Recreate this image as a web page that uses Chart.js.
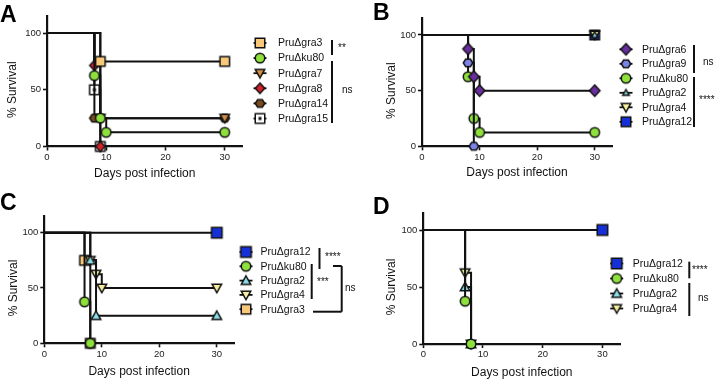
<!DOCTYPE html>
<html>
<head>
<meta charset="utf-8">
<script src="https://cdn.jsdelivr.net/npm/chart.js@4.4.1/dist/chart.umd.min.js"></script>
<style>
  html, body { margin: 0; padding: 0; background: #fff; }
  #fig { position: relative; width: 720px; height: 380px; overflow: hidden; background: #fff; }
  #fig canvas { position: absolute; }
</style>
</head>
<body>
<div id="fig">
  <canvas id="panelA" width="360" height="190" style="left:0;top:0"></canvas>
  <canvas id="panelB" width="360" height="190" style="left:360px;top:0"></canvas>
  <canvas id="panelC" width="360" height="190" style="left:0;top:190px"></canvas>
  <canvas id="panelD" width="360" height="190" style="left:360px;top:190px"></canvas>
</div>
<script>
// shared axis ticks
var xTicks = [0, 10, 20, 30];
var yTicks = [0, 50, 100];

// Panel A - survival (%) by day
var aNames = ['PruΔgra3', 'PruΔku80', 'PruΔgra7', 'PruΔgra8', 'PruΔgra14', 'PruΔgra15'];
var aGra3Days = [0, 9, 30],        aGra3Surv = [100, 75, 75];
var aKu80Days = [0, 8, 9, 10, 30], aKu80Surv = [100, 62.5, 25, 12.5, 12.5];
var aGra7Days = [0, 9, 30],        aGra7Surv = [100, 25, 25];
var aGra8Days = [0, 8, 9],         aGra8Surv = [100, 71.4, 0];
var aGra14Days = [0, 8, 30],       aGra14Surv = [100, 25, 25];
var aGra15Days = [0, 8, 9],        aGra15Surv = [100, 50, 0];

// Panel B
var bNames = ['PruΔgra6', 'PruΔgra9', 'PruΔku80', 'PruΔgra2', 'PruΔgra4', 'PruΔgra12'];
var bGra6Days = [0, 8, 9, 10, 30], bGra6Surv = [100, 87.5, 62.5, 50, 50];
var bGra9Days = [0, 8, 9],         bGra9Surv = [100, 75, 0];
var bKu80Days = [0, 8, 9, 10, 30], bKu80Surv = [100, 62.5, 25, 12.5, 12.5];
var bGra2Days = [0, 30],           bGra2Surv = [100, 100];
var bGra4Days = [0, 30],           bGra4Surv = [100, 100];
var bGra12Days = [0, 30],          bGra12Surv = [100, 100];

// Panel C
var cNames = ['PruΔgra12', 'PruΔku80', 'PruΔgra2', 'PruΔgra4', 'PruΔgra3'];
var cGra12Days = [0, 30],          cGra12Surv = [100, 100];
var cKu80Days = [0, 7, 8],         cKu80Surv = [100, 37.5, 0];
var cGra2Days = [0, 8, 9, 30],     cGra2Surv = [100, 75, 25, 25];
var cGra4Days = [0, 8, 9, 10, 30], cGra4Surv = [100, 75, 62.5, 50, 50];
var cGra3Days = [0, 7, 8],         cGra3Surv = [100, 75, 0];

// Panel D
var dNames = ['PruΔgra12', 'PruΔku80', 'PruΔgra2', 'PruΔgra4'];
var dGra12Days = [0, 30],          dGra12Surv = [100, 100];
var dKu80Days = [0, 7, 8],         dKu80Surv = [100, 37.5, 0];
var dGra2Days = [0, 7, 8],         dGra2Surv = [100, 50, 0];
var dGra4Days = [0, 7, 8],         dGra4Surv = [100, 62.5, 0];

var FONT = '"Liberation Sans", Arial, Helvetica, sans-serif';

// marker look for each strain
var markerStyle = {
  'PruΔgra3':  { shape: 'square',    fill: '#f7c77a' },
  'PruΔku80':  { shape: 'circle',    fill: '#8ee03c' },
  'PruΔgra7':  { shape: 'triDown',   fill: '#d38d45' },
  'PruΔgra8':  { shape: 'diamond',   fill: '#d3202a' },
  'PruΔgra14': { shape: 'hexagon',   fill: '#7a4a1d' },
  'PruΔgra15': { shape: 'squareDot', fill: '#ffffff' },
  'PruΔgra6':  { shape: 'diamond',   fill: '#6a2d9e' },
  'PruΔgra9':  { shape: 'hexagon',   fill: '#7d83e6' },
  'PruΔgra2':  { shape: 'triUp',     fill: '#88dde6' },
  'PruΔgra4':  { shape: 'triDown',   fill: '#f6f09e' },
  'PruΔgra12': { shape: 'square',    fill: '#1530d6' }
};

function makeMarker(shape, fill, size) {
  var pad = 2;
  var c = document.createElement('canvas');
  c.width = c.height = Math.ceil(size + pad * 2);
  var g = c.getContext('2d');
  var m = c.width / 2, r = size / 2;
  g.lineWidth = 1.5;
  g.strokeStyle = '#111';
  g.fillStyle = fill;
  g.beginPath();
  if (shape === 'circle') {
    g.arc(m, m, r, 0, Math.PI * 2);
  } else if (shape === 'square' || shape === 'squareDot') {
    g.rect(m - r, m - r, size, size);
  } else if (shape === 'diamond') {
    g.moveTo(m, m - r - 0.5); g.lineTo(m + r, m); g.lineTo(m, m + r + 0.5); g.lineTo(m - r, m);
    g.closePath();
  } else if (shape === 'triUp') {
    g.moveTo(m, m - r); g.lineTo(m + r, m + r * 0.8); g.lineTo(m - r, m + r * 0.8);
    g.closePath();
  } else if (shape === 'triDown') {
    g.moveTo(m - r, m - r * 0.8); g.lineTo(m + r, m - r * 0.8); g.lineTo(m, m + r);
    g.closePath();
  } else if (shape === 'hexagon') {
    for (var k = 0; k < 6; k++) {
      var a = k * Math.PI / 3;
      var px = m + r * Math.cos(a), py = m + r * 0.9 * Math.sin(a);
      if (k === 0) g.moveTo(px, py); else g.lineTo(px, py);
    }
    g.closePath();
  }
  g.fill();
  g.stroke();
  if (shape === 'squareDot') {
    g.fillStyle = '#111';
    g.fillRect(m - 1.5, m - 1.5, 3, 3);
  }
  return c;
}

var panels = [
  { id: 'panelA', letter: 'A', letterX: 0, letterY: 22,
    area: { left: 47, right: 242.5, top: 16, bottom: 146.5 },
    yTitleX: 12.7, xTitlePad: 8.8,
    names: aNames,
    days: [aGra3Days, aKu80Days, aGra7Days, aGra8Days, aGra14Days, aGra15Days],
    surv: [aGra3Surv, aKu80Surv, aGra7Surv, aGra8Surv, aGra14Surv, aGra15Surv],
    sizes: {},
    legend: { x: 260, textX: 278, y: 43, step: 15.1 },
    lines: [[332, 40, 332, 55], [332, 61, 332, 123]],
    notes: [['**', 338, 48], ['ns', 342, 90]] },
  { id: 'panelB', letter: 'B', letterX: 13, letterY: 20,
    area: { left: 62, right: 252, top: 18.3, bottom: 146.3 },
    yTitleX: 32, xTitlePad: 9.8,
    names: bNames,
    days: [bGra6Days, bGra9Days, bKu80Days, bGra2Days, bGra4Days, bGra12Days],
    surv: [bGra6Surv, bGra9Surv, bKu80Surv, bGra2Surv, bGra4Surv, bGra12Surv],
    sizes: { 'PruΔgra2': 6.5, 'PruΔgra6': 10.5 },
    legend: { x: 266, textX: 282, y: 49.3, step: 14.5 },
    lines: [[334, 45, 334, 73], [334, 77, 334, 127]],
    notes: [['ns', 343, 62], ['****', 339, 100]] },
  { id: 'panelC', letter: 'C', letterX: 0, letterY: 20,
    area: { left: 44.3, right: 234, top: 26.1, bottom: 153.3 },
    yTitleX: 13.3, xTitlePad: 1.1,
    names: cNames,
    days: [cGra12Days, cKu80Days, cGra2Days, cGra4Days, cGra3Days],
    surv: [cGra12Surv, cKu80Surv, cGra2Surv, cGra4Surv, cGra3Surv],
    sizes: { 'PruΔgra12': 10.5 },
    legend: { x: 246, textX: 260.5, y: 62, step: 14.3 },
    lines: [[319.5, 58, 319.5, 79], [311.7, 74, 311.7, 109],
            [333, 76, 341.7, 76], [341.7, 76, 341.7, 121.7], [313, 121.7, 341.7, 121.7]],
    notes: [['****', 325, 67], ['***', 317, 92], ['ns', 345, 98.3]] },
  { id: 'panelD', letter: 'D', letterX: 13, letterY: 24,
    area: { left: 63.3, right: 260.3, top: 22.9, bottom: 154 },
    yTitleX: 31.7, xTitlePad: 0.1,
    names: dNames,
    days: [dGra12Days, dKu80Days, dGra2Days, dGra4Days],
    surv: [dGra12Surv, dKu80Surv, dGra2Surv, dGra4Surv],
    sizes: { 'PruΔgra12': 10.5 },
    legend: { x: 256.7, textX: 272.7, y: 73.5, step: 15 },
    lines: [[329.3, 71.7, 329.3, 88.3], [329.3, 93, 329.3, 126]],
    notes: [['****', 332, 80], ['ns', 338, 108.3]] }
];

var panelDecor = {
  id: 'panelDecor',
  afterDraw: function(chart) {
    var p = chart.config.options.plugins.panelDecor;
    var ctx = chart.ctx;
    ctx.save();
    ctx.fillStyle = '#000';
    ctx.textAlign = 'left';
    ctx.textBaseline = 'alphabetic';
    ctx.font = 'bold 23px ' + FONT;
    ctx.fillText(p.letter, p.letterX, p.letterY);

    // y axis title, centred on the 0-100 span
    var ys = chart.scales.y;
    var yc = (ys.getPixelForValue(0) + ys.getPixelForValue(100)) / 2;
    ctx.save();
    ctx.translate(p.yTitleX, yc);
    ctx.rotate(-Math.PI / 2);
    ctx.font = '12px ' + FONT;
    ctx.textAlign = 'center';
    ctx.textBaseline = 'middle';
    ctx.fillStyle = '#111';
    ctx.fillText('% Survival', 0, 0);
    ctx.restore();

    // legend
    ctx.font = '10.5px ' + FONT;
    ctx.textBaseline = 'middle';
    ctx.textAlign = 'left';
    chart.data.datasets.forEach(function(ds, i) {
      var y = p.legend.y + i * p.legend.step;
      ctx.strokeStyle = '#111';
      ctx.lineWidth = 1.8;
      ctx.beginPath();
      ctx.moveTo(p.legend.x - 6.5, y);
      ctx.lineTo(p.legend.x + 6.5, y);
      ctx.stroke();
      var img = ds.pointStyle;
      ctx.drawImage(img, p.legend.x - img.width / 2, y - img.height / 2);
      ctx.fillStyle = '#111';
      ctx.fillText(ds.label, p.legend.textX, y + 0.5);
    });

    // significance brackets
    ctx.strokeStyle = '#111';
    ctx.lineWidth = 2;
    p.lines.forEach(function(l) {
      ctx.beginPath();
      ctx.moveTo(l[0], l[1]);
      ctx.lineTo(l[2], l[3]);
      ctx.stroke();
    });
    ctx.font = '10px ' + FONT;
    p.notes.forEach(function(n) {
      ctx.fillText(n[0], n[1], n[2]);
    });
    ctx.restore();
  }
};

function buildChart(p) {
  var W = 360, H = 190;
  var datasets = p.names.map(function(name, i) {
    var st = markerStyle[name];
    var img = makeMarker(st.shape, st.fill, p.sizes[name] || 9.5);
    return {
      label: name,
      data: p.days[i].map(function(d, j) { return { x: d, y: p.surv[i][j] }; }),
      stepped: 'before',
      borderColor: '#111',
      borderWidth: 2,
      fill: false,
      pointStyle: img,
      pointRadius: function(c) { return c.dataIndex === 0 ? 0 : 5; },
      clip: false
    };
  });

  new Chart(document.getElementById(p.id), {
    type: 'line',
    data: { datasets: datasets },
    options: {
      responsive: false,
      animation: false,
      devicePixelRatio: 1,
      layout: { padding: { left: 0, top: p.area.top, right: W - p.area.right, bottom: 0 } },
      plugins: {
        legend: { display: false },
        tooltip: { enabled: false },
        panelDecor: p
      },
      scales: {
        x: {
          type: 'linear', min: 0, max: 33,
          afterBuildTicks: function(s) { s.ticks = xTicks.map(function(v) { return { value: v }; }); },
          afterFit: function(s) { s.height = H - p.area.bottom; },
          grid: { drawOnChartArea: false, drawTicks: true, tickLength: 4, tickWidth: 1.6, tickColor: '#111' },
          border: { display: true, color: '#111', width: 2.2 },
          ticks: { font: { size: 9.5, family: FONT }, color: '#222', padding: 1, maxRotation: 0 },
          title: { display: true, text: 'Days post infection', color: '#111',
                   font: { size: 12, family: FONT }, padding: { top: 0, bottom: p.xTitlePad } }
        },
        y: {
          type: 'linear', min: 0, max: 115,
          afterBuildTicks: function(s) { s.ticks = yTicks.map(function(v) { return { value: v }; }); },
          afterFit: function(s) { s.width = p.area.left; },
          grid: { drawOnChartArea: false, drawTicks: true, tickLength: 4, tickWidth: 1.6, tickColor: '#111' },
          border: { display: true, color: '#111', width: 2.2 },
          ticks: { font: { size: 9.5, family: FONT }, color: '#222', padding: 2 },
          title: { display: false }
        }
      }
    },
    plugins: [panelDecor]
  });
}

panels.forEach(buildChart);
</script>
</body>
</html>
